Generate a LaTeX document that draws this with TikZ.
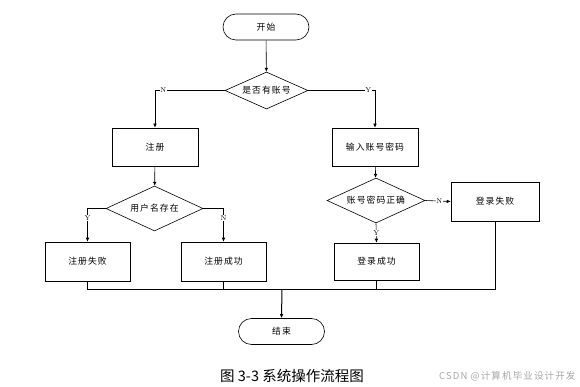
\documentclass[tikz,border=0pt]{standalone}
\usepackage{fontspec}
\newfontfamily\cjk[LetterSpace=12]{Noto Sans CJK SC}
\newfontfamily\cjkcap{Noto Sans CJK SC}
\usetikzlibrary{shapes.geometric}
\usetikzlibrary{arrows.meta}

\tikzset{
    flowline/.style={line width=0.6pt, draw=black},
    flowarrow/.style={flowline, -{Latex[length=4pt,width=3.6pt]}},
    termbox/.style={draw, line width=0.6pt, rounded corners=13pt, minimum width=86pt, minimum height=26pt, inner sep=0pt, font=\cjk\fontsize{8.8}{10}\selectfont},
    procbox/.style={draw, line width=0.6pt, minimum width=86pt, minimum height=38pt, inner sep=0pt, font=\cjk\fontsize{8.8}{10}\selectfont},
    decbox/.style={draw, diamond, line width=0.6pt, aspect=2.2, inner sep=0pt, font=\cjk\fontsize{8.8}{10}\selectfont},
    yn/.style={fill=white, inner sep=0.6pt, font=\fontsize{7}{8}\selectfont}
}

\begin{document}
\begin{tikzpicture}[x=1pt,y=-1pt]
        \useasboundingbox (0,0) rectangle (580,387);
        \node[termbox] (start) at (266,27) {开始};
        \node[decbox, minimum width=83pt, minimum height=37pt] (hasacc) at (266.5,90.5) {是否有账号};
        \node[procbox] (reg) at (155,147) {注册};
        \node[procbox] (input) at (375,147) {输入账号密码};
        \node[decbox, minimum width=97pt, minimum height=45pt] (exists) at (154.5,208.5) {用户名存在};
        \node[decbox, minimum width=98pt, minimum height=45pt] (check) at (376,200.5) {账号密码正确};
        \node[procbox, minimum width=85pt, minimum height=39pt] (regfail) at (87.5,261.5) {注册失败};
        \node[procbox, minimum width=85pt, minimum height=39pt] (regok) at (223.5,261.5) {注册成功};
        \node[procbox, minimum width=85pt, minimum height=37pt] (loginok) at (376.5,261.5) {登录成功};
        \node[procbox, minimum width=88pt, minimum height=39pt] (loginfail) at (495,201.5) {登录失败};
        \node[termbox] (stop) at (281.5,331.5) {结束};
        \coordinate (merge) at (282,289);

        \draw[flowarrow] (start) -- (hasacc);
        \draw[flowarrow] (hasacc.west) -| (reg.north) node[yn, pos=0.44] {N};
        \draw[flowarrow] (hasacc.east) -| (input.north) node[yn, pos=0.45] {Y};
        \draw[flowarrow] (reg) -- (exists);
        \draw[flowarrow] (input) -- (check);
        \draw[flowarrow] (exists.west) -| (regfail.north) node[yn, pos=0.64] {Y};
        \draw[flowarrow] (exists.east) -| (regok.north) node[yn, pos=0.64] {N};
        \draw[flowarrow] (check.south) -- (loginok.north) node[yn, midway] {Y};
        \draw[flowarrow] (check.east) -- (loginfail.west) node[yn, pos=0.55] {N};

        \draw[flowline] (regfail.south) |- (loginfail.south |- merge) -- (loginfail.south);
        \draw[flowline] (regok.south) -- (regok.south |- merge);
        \draw[flowline] (loginok.south) -- (loginok.south |- merge);
        \draw[flowarrow, line width=1pt] (merge) -- (stop.north);

        \node[font=\cjkcap\fontsize{14.5}{16}\selectfont] (caption) at (292,376) {图 3-3 系统操作流程图};
        \node[anchor=east, text=black!35, font=\cjk\fontsize{9.5}{11}\selectfont] (mark) at (579,376) {CSDN @计算机毕业设计开发};
    \end{tikzpicture}
\end{document}
